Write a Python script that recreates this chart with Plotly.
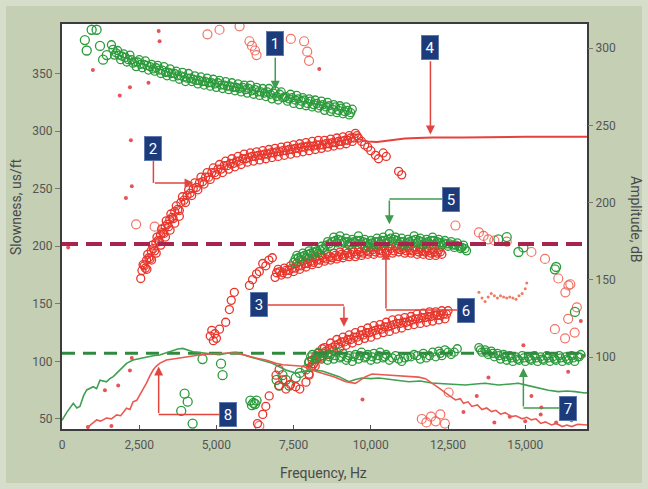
import plotly.graph_objects as go

# ---------------- data (Hz vs slowness us/ft) ----------------
g1_x = [1600,1700,1800,1900,2000,2100,2200,2300,2400,2500,2600,2700,2800,2900,3000,3100,3200,3300,3400,3500,
        3600,3700,3800,3900,4000,4100,4200,4300,4400,4500,4600,4700,4800,4900,5000,5100,5200,5300,5400,5500,
        5600,5700,5800,5900,6000,6100,6200,6300,6400,6500,6600,6700,6800,6900,7000,7100,7200,7300,7400,7500,
        7600,7700,7800,7900,8000,8100,8200,8300,8400,8500,8600,8700,8800,8900,9000,9100,9200,9300,9400]
g1_y = [375,366,370,362,367,360,366,359,356,362,355,361,353,358,352,357,350,356,348,354,
        347,352,345,351,343,350,343,348,341,347,340,346,339,345,338,344,337,343,336,342,
        335,341,334,340,333,340,332,338,331,337,330,337,328,335,327,334,329,326,332,324,
        331,323,329,322,328,321,327,320,326,318,325,317,323,316,322,315,321,314,319]
g1b_x = [1650,1750,1850,1950,2050,2150,2250,2350,2450,2550,2650,2750,2850,2950,3050,3150,3250,3350,3450,3550,
         3650,3750,3850,3950,4050,4150,4250,4350,4450,4550,4650,4750,4850,4950,5050,5150,5250,5350,5450,5550,
         5650,5750,5850,5950,6050,6150,6250,6350,6450,6550,6650,6750,6850,6950,7050,7150,7250,7350,7450,7550,
         7650,7750,7850,7950,8050,8150,8250,8350,8450,8550,8650,8750,8850,8950,9050,9150,9250,9350]
g1b_y = [371,368,366,365,364,362,362,360,360,358,358,357,356,354,355,353,353,351,351,350,
         350,348,348,347,346,346,345,344,344,343,343,342,342,341,342,340,340,339,339,338,
         338,337,338,336,337,335,336,334,334,333,334,332,333,330,332,329,330,328,329,327,
         328,326,327,324,326,323,324,322,323,321,322,319,321,318,320,317,318,316]

r2_x = [2550,2625,2700,2775,2850,2925,3000,3075,3150,3225,3300,3375,3450,3525,3600,3700,3800,3900,4000,4100,
        4200,4300,4400,4500,4600,4700,4800,4900,5000,5100,5200,5300,5400,5500,5600,5700,5800,5900,6000,6100,
        6200,6300,6400,6500,6600,6700,6800,6900,7000,7100,7200,7300,7400,7500,7600,7700,7800,7900,8000,8100,
        8200,8300,8400,8500,8600,8700,8800,8900,9000,9100,9200,9300,9400,9500,9600,9700,9800,
        9900,10000,10150,10250,10400,10500,10900,11000]
r2_y = [172,184,181,193,189,201,196,208,204,215,211,222,217,228,224,235,231,243,238,249,
        244,255,249,260,254,264,258,268,262,271,264,274,267,276,269,278,271,280,273,281,
        274,282,275,283,276,284,277,285,278,286,279,287,280,288,281,289,282,290,283,291,
        284,292,285,292,286,293,287,294,288,295,289,296,291,298,294,291,288,
        286,283,279,276,281,278,265,262]
r2b_x = [2590,2660,2740,2810,2890,2960,3040,3110,3190,3260,3340,3410,3490,3560,3650,3750,3850,3950,4050,4150,
         4250,4350,4450,4550,4650,4750,4850,4950,5050,5150,5250,5350,5450,5550,5650,5750,5850,5950,6050,6150,
         6250,6350,6450,6550,6650,6750,6850,6950,7050,7150,7250,7350,7450,7550,7650,7750,7850,7950,8050,8150,
         8250,8350,8450,8550,8650,8750,8850,8950,9050,9150,9250,9350,9450,9550,
         2750,2900,3050,3200,3350,3500,3650,3800]
r2b_y = [179,183,188,190,196,198,203,205,210,212,217,219,223,225,230,232,238,240,244,246,
         250,251,255,256,260,260,264,264,267,267,270,270,272,272,274,274,276,276,277,278,
         278,279,279,280,280,281,281,282,282,283,283,284,284,285,285,286,286,287,287,287,
         288,288,288,289,289,290,290,291,291,292,292,294,294,296,
         180,188,194,201,208,214,220,226]

r4_x = [9600,9900,10200,10500,10800,11100,11500,12000,13000,14000,15000,16000,17000]
r4_y = [293,291,290.5,291.5,292.5,293.5,294,294.5,294.5,295,295,295,295]

r_rise_x = [4800,4850,4900,4950,5000,5100,5300,5420,5480,5580,6070,6170,6300,6390,6500,6600,6700,6810,
            6330,6500,6600,6710,6930,7030,7030,7150,7250,7400,7570,7700,7900,8000,8100,8220,8430]
r_rise_y = [122,127,118,124,120,128,134,145,153,160,166,171,176,178,185,183,188,190,
            46,54,61,70,88,93,79,84,76,80,78,76,82,88,96,105,111]

r6_x = [6900,7000,7100,7200,7300,7400,7500,7600,7700,7800,7900,8000,8100,8200,8300,8400,8500,8600,8700,8800,
        8900,9000,9100,9200,9300,9400,9500,9600,9700,9800,9900,10000,10100,10200,10300,10400,10500,10600,10700,
        10800,10900,11000,11100,11200,11300,11400,11500,11600,11700,11800,11900,12000,12100,12200,12300]
r6_y = [173,180,175,181,176,183,178,185,180,187,182,189,184,190,185,192,187,193,188,194,
        189,195,190,196,191,197,191,197,192,198,193,199,193,199,194,200,194,200,194,
        200,195,200,194,199,194,199,193,198,193,198,192,197,192,197,193]
r6b_x = [6950,7050,7150,7250,7350,7450,7550,7650,7750,7850,7950,8050,8150,8250,8350,8450,8550,8650,8750,8850,
         8950,9050,9150,9250,9350,9450,9550,9650,9750,9850,9950,10050,10150,10250,10350,10450,10550,10650,10750,
         10850,10950,11050,11150,11250,11350,11450,11550,11650,11750,11850,11950,12050,12150,12250]
r6b_y = [177,178,177,179,179,181,181,183,183,185,185,187,186,188,188,190,189,191,190,192,
         191,193,192,194,193,195,193,195,194,196,195,197,195,197,196,198,196,198,196,
         198,197,198,196,197,196,197,195,196,195,196,194,195,194,195]

g5_x = [7500,7600,7700,7800,7900,8000,8100,8200,8300,8400,8500,8600,8700,8800,8900,9000,9100,9200,9300,9400,
        9500,9600,9700,9800,9900,10000,10100,10200,10300,10400,10500,10600,10700,10800,10900,11000,11100,11200,
        11300,11400,11500,11600,11700,11800,11900,12000,12100,12200,12300,12400,12500,12600,12700,12800,12900,
        13000,13100]
g5_y = [186,192,188,194,190,196,192,198,194,200,197,204,200,208,203,209,203,207,201,206,
        203,209,202,206,200,205,201,207,202,208,203,211,204,208,202,207,201,206,
        202,209,203,207,201,206,202,208,202,206,201,205,200,204,199,203,198,
        201,196]
g5b_x = [7550,7650,7750,7850,7950,8050,8150,8250,8350,8450,8550,8650,8750,8850,8950,9050,9150,9250,9350,9450,
         9550,9650,9750,9850,9950,10050,10150,10250,10350,10450,10550,10650,10750,10850,10950,11050,11150,11250,
         11350,11450,11550,11650,11750,11850,11950,12050,12150,12250,12350,12450,12550,12650,12750,12850,12950,
         13050]
g5b_y = [189,190,191,192,193,194,195,196,197,198,201,202,204,205,206,205,204,204,203,204,
         205,205,204,203,202,203,204,204,205,205,206,207,206,205,204,204,203,204,
         205,206,205,204,203,204,205,205,204,203,203,202,202,201,201,200,199,
         198]

r3_x = [8000,8100,8200,8300,8400,8500,8600,8700,8800,8900,9000,9100,9200,9300,9400,9500,9600,9700,9800,9900,
        10000,10100,10200,10300,10400,10500,10600,10700,10800,10900,11000,11100,11200,11300,11400,11500,11600,
        11700,11800,11900,12000,12100,12200,12300,12400,12500]
r3_y = [89,101,96,107,102,112,106,116,109,119,112,121,114,123,116,125,118,127,120,129,
        121,131,123,132,125,134,126,136,128,137,129,138,131,139,132,141,133,
        142,134,143,135,143,136,144,137,144]
r3b_x = [8050,8150,8250,8350,8450,8550,8650,8750,8850,8950,9050,9150,9250,9350,9450,9550,9650,9750,9850,9950,
         10050,10150,10250,10350,10450,10550,10650,10750,10850,10950,11050,11150,11250,11350,11450,11550,11650,
         11750,11850,11950,12050,12150,12250,12350,12450]
r3b_y = [95,98,102,104,107,109,111,112,114,115,117,117,119,119,121,121,123,123,125,125,
         126,127,128,128,130,130,131,132,133,133,134,134,135,136,137,137,138,
         138,139,139,140,140,140,141,141]

g_low_x = [8000,8100,8200,8300,8400,8500,8600,8700,8800,8900,9000,9100,9200,9300,9400,9500,9600,9700,9800,9900,
           10000,10100,10200,10300,10400,10500,10600,10800,11000,11200,11400,11600,11700,11800,12000,12100,12200,
           12300,12400,12600,12800,13500,13600,13700,13800,13900,14000,14100,14200,14300,14400,14500,14600,14700,
           14800,14900,15000,15100,15200,15300,15400,15500,15600,15700,15800,15900,16000,16100,16200,16300,16400,
           16500,16600,16700,16800]
g_low_y = [100,106,102,108,103,107,101,106,102,108,103,107,101,105,100,106,102,108,103,106,
           101,107,102,108,103,106,101,105,100,104,106,102,107,103,108,104,109,
           105,110,106,111,112,108,110,106,109,104,107,102,106,101,105,100,104,
           101,105,100,104,101,105,100,104,101,105,100,104,101,105,100,104,101,
           105,100,104,106]
g_lowb_x = [8050,8250,8450,8650,8850,9050,9250,9450,9650,9850,10050,10250,10450,10700,10900,11100,11300,11500,
            11900,12250,12500,12700,13550,13750,13950,14150,14350,14550,14750,14950,15150,15350,15550,15750,
            15950,16150,16350,16550,16750]
g_lowb_y = [104,104,105,104,105,104,103,104,105,104,104,105,104,103,102,103,104,105,
            105,107,108,108,110,108,107,105,104,103,102,103,102,103,102,103,
            102,103,102,103,104]

g_misc_x = [740,800,960,1120,1230,1330,1450,
            3970,4070,3860,4230,4550,5150,5200,6100,6200,6300,6150,6250,
            6950,7030,7140,7250,7360,7570,7700,7900,8000,
            14130,14400,14780,14940,15960,16000,16610]
g_misc_y = [379,370,388,388,374,362,366,
            72,65,57,46,102,98,88,66,64,66,62,63,
            84,79,88,84,79,86,90,93,99,
            206,208,195,199,180,182,143]

r_circ_x = [2400,3000,4710,5100,5750,6070,6150,6250,6300,7410,7840,7940,8000,
            12740,13500,13650,13800,14000,14400,15200,15640,16070,16400,16460,16670,16300,
            15960,16290,16390,16600,11650,11800,11950,12100,12250,12400,12520,6390]
r_circ_y = [219,217,384,388,391,378,374,370,366,380,378,369,361,
            218,212,209,206,205,204,195,189,172,166,167,147,160,
            128,120,137,125,50,47,52,48,54,46,73,44]

r_dot_x = [1000,1870,2200,2800,3130,3160,2070,2260,2230,200,2200,1390,1820,2260,1600,840,9730,
           13430,13810,15200,15520,16390,14940,8330,7000,16800,16900,14500,15000,15500,16000,16500,13000,14000]
r_dot_y = [353,331,338,342,387,378,242,252,292,199,92,75,79,103,44,43,67,
           70,86,70,60,91,114,354,378,135,105,52,48,54,47,49,56,47]

tilde_x = [13500,13600,13700,13800,13900,14000,14100,14200,14300,14400,14500,14600,14700,14800,14900,15000,15050]
tilde_y = [160,155,152,156,159,157,155,157,156,155,156,155,154,157,159,163,168]

dash_x = [0, 17000]
dash_red_y = [202, 202]
dash_green_y = [107, 107]

# ---------------- amplitude (dB, right axis) ----------------
amp_green_x = [0,150,365,480,580,700,800,1010,1120,1230,1440,1550,1660,1870,2090,2300,2500,2730,2950,3160,
               3400,3590,3750,3910,4240,4670,5100,5400,5640,6070,6490,6810,7050,7250,7570,7800,8000,8430,8700,
               8970,9290,9500,9710,10000,10260,10600,10910,11230,11600,11970,12500,13060,13400,13700,14130,14450,
               14780,15100,15430,15750,16070,16350,16610,16930,17000]
amp_green_y = [59,64,70,67,68,75,78.7,80.8,79.5,85,84,86,87.3,91.6,95.9,98.1,99,100.2,100.8,101.3,
               103,104.5,105.2,105.6,103.4,102.4,101.5,102.6,103,100.2,98.1,96,93.5,91.6,89.6,90.5,91.6,91,89,
               87.3,84,85.5,86.4,86,86.4,85.5,85.1,84,84.5,83.2,82.5,81.9,82.5,83,81.9,82.5,
               83,81.5,79.8,78.5,77.6,78,77.6,76.7,77]

amp_red_x = [800,1000,1120,1250,1440,1600,1770,1900,2090,2200,2300,2420,2520,2630,2730,2850,2950,3050,3160,3380,
             3600,3810,4100,4450,4800,5100,5400,5740,6070,6350,6600,6930,7150,7360,7600,7800,8100,8430,8800,9190,
             9500,9830,10040,10400,10800,11200,11550,11770,11970,12200,12410,12600,12740,12900,13000,13150,13270,
             13450,13600,13750,13910,14050,14200,14350,14560,14700,14900,15050,15200,15350,15500,15650,15850,16000,
             16200,16350,16500,16700,16930,17000]
amp_red_y = [54,57,59.3,58.5,60.5,60,62.5,62,66.8,66,71,72,75.4,79,83,88,91.6,94,95.9,98.1,
             98.8,99.2,100.3,101.3,102,102.4,102.6,102.2,100.2,99,98.1,95.9,95,94.8,94.5,94,91.5,89.6,87.3,84,
             83,87.3,89,88.5,88,87.5,87,86,83,80,77,74,72.2,73,70,71,68,
             69,66,67,64.7,65.5,63,64,61.4,62,60,61,59.3,60,57,58,56,57,
             55,56,55,56.5,56,56]

x_ticks = [0, 2500, 5000, 7500, 10000, 12500, 15000]
x_tick_text = ["0", "2,500", "5,000", "7,500", "10,000", "12,500", "15,000"]
y_ticks = [50, 100, 150, 200, 250, 300, 350]
y2_ticks = [100, 150, 200, 250, 300]

# callouts: label, box x, box y, path points (box edge -> corner), tip, colour
RED_A = "#e2453e"
GRN_A = "#3f9b4e"
callouts = [
    ("1", 6906, 375.8, [(6906, 365)], (6906, 336), GRN_A),
    ("2", 2960, 285, [(2960, 274), (2960, 255)], (4260, 255), RED_A),
    ("3", 6370, 149, [(6640, 149), (9130, 149)], (9130, 130), RED_A),
    ("4", 11930, 373, [(11930, 362)], (11930, 297), RED_A),
    ("5", 12600, 241, [(12330, 241), (10600, 241)], (10600, 219), GRN_A),
    ("6", 13070, 144.6, [(12800, 144.6), (10490, 144.6)], (10490, 196), RED_A),
    ("7", 16390, 59.5, [(16120, 59.5), (14940, 59.5)], (14940, 94.3), GRN_A),
    ("8", 5390, 53.8, [(5120, 53.8), (3130, 53.8)], (3130, 95.6), RED_A),
]

FONT = "Liberation Sans Narrow, Roboto, Arial, sans-serif"
RED = "#e8352b"
GREEN = "#2b9a3b"

fig = go.Figure()

def circ(x, y, color, size=8, lw=1.3, opacity=1.0):
    fig.add_trace(go.Scatter(x=x, y=y, mode="markers",
                             marker=dict(symbol="circle-open", color=color, size=size,
                                         line=dict(width=lw), opacity=opacity),
                             hoverinfo="skip", showlegend=False))

# dots
fig.add_trace(go.Scatter(x=r_dot_x, y=r_dot_y, mode="markers",
                         marker=dict(symbol="circle", color="#e0363a", size=4, opacity=0.85),
                         hoverinfo="skip", showlegend=False))
fig.add_trace(go.Scatter(x=tilde_x, y=tilde_y, mode="markers",
                         marker=dict(symbol="circle", color="#ef7a62", size=3),
                         hoverinfo="skip", showlegend=False))

circ(r_circ_x, r_circ_y, "#ee5a4a", size=9, lw=1.2, opacity=0.85)
circ(g_misc_x, g_misc_y, GREEN, size=9, lw=1.3)
for bx, by in [(g1_x, g1_y), (g1b_x, g1b_y)]:
    circ(bx, by, GREEN, size=8)
for bx, by in [(r2_x, r2_y), (r2b_x, r2b_y), (r_rise_x, r_rise_y), (r6_x, r6_y), (r6b_x, r6b_y)]:
    circ(bx, by, RED, size=8)
for bx, by in [(g5_x, g5_y), (g5b_x, g5b_y)]:
    circ(bx, by, GREEN, size=8)
for bx, by in [(r3_x, r3_y), (r3b_x, r3b_y)]:
    circ(bx, by, RED, size=8)
for bx, by in [(g_low_x, g_low_y), (g_lowb_x, g_lowb_y)]:
    circ(bx, by, GREEN, size=8)

fig.add_trace(go.Scatter(x=r4_x, y=r4_y, mode="lines", line=dict(color="#e8403a", width=2),
                         hoverinfo="skip", showlegend=False))

fig.add_trace(go.Scatter(x=dash_x, y=dash_red_y, mode="lines",
                         line=dict(color="#a8234e", width=4, dash="16px,8px"),
                         hoverinfo="skip", showlegend=False))
fig.add_trace(go.Scatter(x=dash_x, y=dash_green_y, mode="lines",
                         line=dict(color="#2f8a3e", width=3, dash="13px,8px"),
                         hoverinfo="skip", showlegend=False))

fig.add_trace(go.Scatter(x=amp_green_x, y=amp_green_y, mode="lines", yaxis="y2",
                         line=dict(color="#3fa052", width=1.6),
                         hoverinfo="skip", showlegend=False))
fig.add_trace(go.Scatter(x=amp_red_x, y=amp_red_y, mode="lines", yaxis="y2",
                         line=dict(color="#e85a50", width=1.6),
                         hoverinfo="skip", showlegend=False))

annotations = []
shapes = []
for lab, bx, by, path, tip, col in callouts:
    pts = path
    if len(pts) >= 2:
        for (x0, y0), (x1, y1) in zip(pts[:-1], pts[1:]):
            shapes.append(dict(type="line", xref="x", yref="y", x0=x0, y0=y0, x1=x1, y1=y1,
                               line=dict(color=col, width=1.5)))
    cx, cy = pts[-1]
    annotations.append(dict(x=tip[0], y=tip[1], ax=cx, ay=cy, xref="x", yref="y",
                            axref="x", ayref="y", text="", showarrow=True,
                            arrowhead=2, arrowsize=1.2, arrowwidth=1.5, arrowcolor=col))
    annotations.append(dict(x=bx, y=by, xref="x", yref="y", text=lab, showarrow=False,
                            font=dict(family=FONT, size=15, color="white"),
                            bgcolor="#1b3b7b", bordercolor="#6079ad", borderwidth=1,
                            borderpad=1, width=14, height=21))

# axis titles
annotations.append(dict(x=0.4981, y=-0.1086, xref="paper", yref="paper", text="Frequency, Hz",
                        xanchor="center", yanchor="middle",
                        showarrow=False, font=dict(family=FONT, size=14, color="#4a4a4a")))
annotations.append(dict(x=-0.0876, y=0.548, xref="paper", yref="paper", text="Slowness, us/ft",
                        xanchor="center", yanchor="middle",
                        textangle=-90, showarrow=False, font=dict(family=FONT, size=14, color="#4a4a4a")))
annotations.append(dict(x=1.0933, y=0.516, xref="paper", yref="paper", text="Amplitude, dB",
                        xanchor="center", yanchor="middle",
                        textangle=90, showarrow=False, font=dict(family=FONT, size=14, color="#4a4a4a")))

# light frame around the picture
shapes.append(dict(type="rect", xref="paper", yref="paper", layer="above",
                   x0=-62/525, x1=(648-62)/525, y0=-60/405, y1=(429)/405,
                   line=dict(color="#d6ddca", width=12), fillcolor="rgba(0,0,0,0)"))

tickfont = dict(family=FONT, size=12, color="#555555")
fig.update_layout(
    width=648, height=489,
    margin=dict(l=62, r=61, t=24, b=60),
    paper_bgcolor="#c4cfb3",
    plot_bgcolor="white",
    showlegend=False,
    xaxis=dict(range=[0, 17000], tickvals=x_ticks, ticktext=x_tick_text, ticks="inside",
               ticklen=4, tickcolor="#555", showgrid=False, zeroline=False,
               showline=True, linecolor="#3c3c3c", linewidth=2, mirror=True,
               tickfont=tickfont, ticklabelstandoff=4),
    yaxis=dict(range=[41.3, 393], tickvals=y_ticks, ticks="outside", ticklen=5, tickcolor="#777",
               showgrid=False, zeroline=False, showline=True, linecolor="#3c3c3c", linewidth=2,
               mirror=True, tickfont=tickfont),
    yaxis2=dict(range=[53.4, 315.7], tickvals=y2_ticks, overlaying="y", side="right",
                ticks="outside", ticklen=5, tickcolor="#777", showgrid=False, zeroline=False,
                showline=False, tickfont=tickfont),
    annotations=annotations,
    shapes=shapes,
)

fig.write_html("out.html")
